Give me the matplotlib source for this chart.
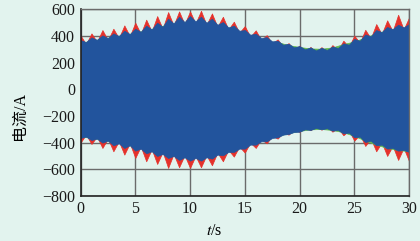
import numpy as np
import matplotlib
matplotlib.use("Agg")
import matplotlib.pyplot as plt

# peak envelopes of the three phase currents, every 0.5 s
t_half = np.arange(0, 30.01, 0.5)
t_full = np.arange(0, 30.01, 1.0)

blue_upper = [370, 355, 390, 372, 405, 385, 420, 400, 440, 415,
              455, 432, 478, 450, 500, 470, 530, 495, 545, 505,
              550, 510, 545, 500, 530, 485, 505, 465, 478, 440,
              445, 410, 418, 385, 392, 360, 365, 335, 342, 315,
              325, 300, 315, 292, 312, 295, 322, 310, 345, 335,
              378, 365, 412, 398, 445, 430, 468, 452, 485, 465,
              490]
blue_lower = [-365, -355, -380, -370, -400, -385, -420, -405, -440, -420,
              -460, -445, -480, -465, -500, -485, -515, -500, -530, -510,
              -535, -515, -535, -510, -520, -490, -495, -470, -470, -445,
              -445, -415, -415, -390, -390, -365, -360, -340, -335, -320,
              -318, -300, -305, -290, -300, -292, -310, -305, -330, -325,
              -360, -355, -395, -385, -420, -415, -445, -440, -460, -455,
              -470]
red_upper = [405, 340, 420, 357, 445, 370, 455, 385, 480, 400,
             500, 417, 523, 435, 550, 455, 580, 480, 585, 490,
             585, 495, 590, 485, 570, 470, 545, 450, 508, 425,
             475, 395, 443, 370, 407, 345, 375, 320, 347, 300,
             328, 285, 318, 277, 317, 280, 332, 295, 365, 320,
             403, 350, 447, 383, 490, 415, 518, 437, 560, 450,
             540]
red_lower = [-400, -340, -410, -355, -440, -370, -465, -390, -490, -405,
             -515, -430, -540, -450, -560, -470, -590, -485, -585, -495,
             -590, -500, -585, -495, -570, -475, -540, -455, -505, -430,
             -475, -400, -440, -375, -405, -350, -370, -325, -340, -305,
             -320, -285, -307, -275, -303, -277, -318, -290, -345, -310,
             -385, -340, -425, -370, -465, -400, -500, -425, -530, -440,
             -540]
# green phase, every 1 s
green_upper = [350, 365, 380, 395, 410, 425, 445, 465, 490, 500,
               505, 495, 480, 460, 435, 405, 380, 360, 355, 332,
               318, 307, 305, 315, 340, 360, 390, 420, 445, 455,
               465]
green_lower = [-350, -365, -375, -395, -410, -430, -450, -470, -490, -505,
               -510, -500, -480, -455, -430, -400, -380, -355, -350, -328,
               -312, -300, -298, -305, -322, -350, -385, -415, -440, -455,
               -465]

x_ticks = [0, 5, 10, 15, 20, 25, 30]
y_ticks = [-800, -600, -400, -200, 0, 200, 400, 600]

BG = "#e2f3ee"
RED = "#e5312b"
GREEN = "#62b94b"
BLUE = "#22549d"

plt.rcParams["font.family"] = ["Liberation Serif", "Noto Sans CJK SC"]
plt.rcParams["mathtext.fontset"] = "stix"

fig = plt.figure(figsize=(4.2, 2.41), dpi=100, facecolor=BG)
ax = fig.add_axes([0.1917, 0.187, 0.7823, 0.774], facecolor=BG)

# dense oscillation -> solid band between the peak envelopes
ax.fill_between(t_half, red_lower, red_upper, color=RED, lw=0.5, ec=RED)
ax.fill_between(t_full, green_lower, green_upper, color=GREEN, lw=0.5, ec=GREEN)
ax.fill_between(t_half, blue_lower, blue_upper, color=BLUE, lw=0.5, ec=BLUE)

ax.set_xlim(0, 30)
ax.set_ylim(-800, 600)
ax.set_xticks(x_ticks)
ax.set_yticks(y_ticks)
ax.tick_params(length=0, labelsize=11.5, colors="#1a1a1a", pad=4)
ax.set_axisbelow(True)
ax.grid(True, color="#6b6b6b", lw=1.0)

for side in ["top", "right"]:
    ax.spines[side].set_color("#6b6b6b")
    ax.spines[side].set_linewidth(1.0)
for side in ["left", "bottom"]:
    ax.spines[side].set_color("#222222")
    ax.spines[side].set_linewidth(1.2)

ax.set_xlabel("$t$/s", fontsize=11.5)
ax.xaxis.set_label_coords(0.406, -0.145)
ax.set_ylabel("电流/A", fontsize=11.5)
ax.yaxis.set_label_coords(-0.16, 0.43)

fig.savefig("out.png", dpi=100, facecolor=BG)
